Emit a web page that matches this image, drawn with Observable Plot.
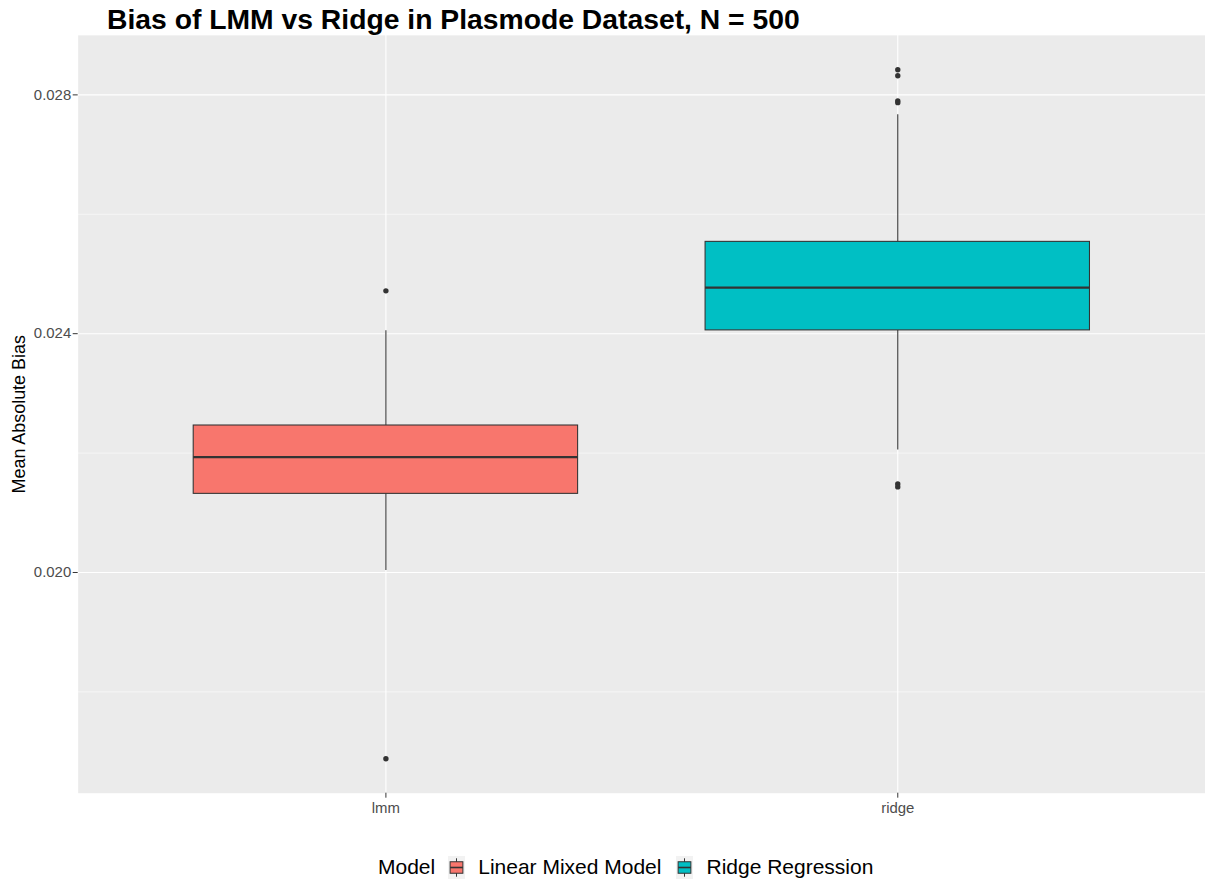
<!DOCTYPE html>
<html>
<head>
<meta charset="utf-8">
<script src="https://cdn.jsdelivr.net/npm/d3@7"></script>
<script src="https://cdn.jsdelivr.net/npm/@observablehq/plot@0.6"></script>
<style>
  html, body { margin: 0; padding: 0; background: #ffffff; overflow: hidden; width: 1205px; height: 886px; }
  body { position: relative; font-family: "Liberation Sans", Arial, sans-serif; }
  #title { position: absolute; left: 107px; top: 3px; font-size: 28.3px; font-weight: bold; color: #000; white-space: nowrap; }
  #chart { position: absolute; left: 0; top: 0; width: 1205px; height: 830px; overflow: hidden; }
  #legend { position: absolute; left: 378px; top: 855px; display: flex; align-items: center; font-size: 21px; color: #000; white-space: nowrap; }
  #legend .lab { margin-right: 13px; }
  #legend .item { display: flex; align-items: center; margin-right: 15px; }
  #legend svg { margin-right: 13px; }
</style>
</head>
<body>
<div id="chart"></div>
<div id="title">Bias of LMM vs Ridge in Plasmode Dataset, N = 500</div>
<div id="legend"></div>
<script>
// ---- data ----
const models = ["lmm", "ridge"];
const modelLabels = ["Linear Mixed Model", "Ridge Regression"];
const modelColors = ["#F8766D", "#00BFC4"];
const whiskerLow = [0.020033, 0.02205];
const q1 = [0.021317, 0.024055];
const median = [0.021933, 0.024772];
const q3 = [0.022462, 0.025538];
const whiskerHigh = [0.02405, 0.027667];
const outlierModel = ["lmm", "lmm", "ridge", "ridge", "ridge", "ridge", "ridge", "ridge"];
const outlierValue = [0.024717, 0.01688, 0.02842, 0.02832, 0.0279, 0.02787, 0.021483, 0.021433];
const majorTicks = [0.020, 0.024, 0.028];
const minorTicks = [0.018, 0.022, 0.026];
const yLabel = "Mean Absolute Bias";
const legendTitle = "Model";

// ---- tables built from arrays ----
const boxes = models.map((m, i) => ({model: m, lo: whiskerLow[i], q1: q1[i], med: median[i], q3: q3[i], hi: whiskerHigh[i]}));
const outliers = outlierModel.map((m, i) => ({model: m, value: outlierValue[i]}));

// ggplot-style 5% expansion of data range
const allVals = [...whiskerLow, ...whiskerHigh, ...outlierValue];
const dmin = d3.min(allVals), dmax = d3.max(allVals);
const ex = (dmax - dmin) * 0.05;

const grey20 = "#333333";
const chart = Plot.plot({
  width: 1210,
  height: 830,
  marginLeft: 78,
  marginRight: 0,
  marginTop: 35,
  marginBottom: 34,
  style: {background: "transparent", fontFamily: "'Liberation Sans', Arial, sans-serif"},
  x: {domain: models, paddingInner: 0.25, paddingOuter: 0.225, align: 0.5, label: null},
  y: {domain: [dmin - ex, dmax + ex], label: null},
  color: {domain: models, range: modelColors},
  marks: [
    Plot.frame({fill: "#EBEBEB", stroke: "none"}),
    Plot.gridY(minorTicks, {stroke: "#ffffff", strokeOpacity: 1, strokeWidth: 0.55}),
    Plot.gridY(majorTicks, {stroke: "#ffffff", strokeOpacity: 1, strokeWidth: 1.1}),
    Plot.gridX(models, {stroke: "#ffffff", strokeOpacity: 1, strokeWidth: 1.1}),
    Plot.ruleX(boxes, {x: "model", y1: "lo", y2: "q1", stroke: grey20, strokeWidth: 1.07}),
    Plot.ruleX(boxes, {x: "model", y1: "q3", y2: "hi", stroke: grey20, strokeWidth: 1.07}),
    Plot.barY(boxes, {x: "model", y1: "q1", y2: "q3", fill: "model", stroke: grey20, strokeWidth: 1.07}),
    Plot.tickY(boxes, {x: "model", y: "med", stroke: grey20, strokeWidth: 2.2}),
    Plot.dot(outliers, {x: "model", y: "value", r: 2.7, fill: grey20, stroke: "none"}),
    Plot.axisY(majorTicks, {tickFormat: d3.format(".3f"), tickSize: 5, tickPadding: 2, fontSize: 15, stroke: grey20, fill: "#4D4D4D", label: null}),
    Plot.axisX(models, {tickSize: 5, tickPadding: 4, fontSize: 15, stroke: grey20, fill: "#4D4D4D", label: null}),
    Plot.text([yLabel], {frameAnchor: "left", textAnchor: "middle", rotate: -90, dx: -59, fontSize: 18, fill: "#000000"})
  ]
});
document.getElementById("chart").appendChild(chart);

// ---- legend ----
const legend = document.getElementById("legend");
const t = document.createElement("span");
t.className = "lab";
t.textContent = legendTitle;
legend.appendChild(t);
models.forEach((m, i) => {
  const item = document.createElement("span");
  item.className = "item";
  const w = 17, h = 23;
  item.innerHTML =
    `<svg width="${w}" height="${h}" viewBox="0 0 ${w} ${h}">` +
    `<rect x="0" y="0" width="${w}" height="${h}" fill="#F2F2F2"/>` +
    `<line x1="${w/2}" x2="${w/2}" y1="${h*0.1}" y2="${h*0.9}" stroke="${grey20}" stroke-width="1"/>` +
    `<rect x="${w*0.125}" y="${h*0.25}" width="${w*0.75}" height="${h*0.5}" fill="${modelColors[i]}" stroke="${grey20}" stroke-width="1"/>` +
    `<line x1="${w*0.125}" x2="${w*0.875}" y1="${h/2}" y2="${h/2}" stroke="${grey20}" stroke-width="1.6"/>` +
    `</svg>`;
  const lab = document.createElement("span");
  lab.textContent = modelLabels[i];
  item.appendChild(lab);
  legend.appendChild(item);
});
</script>
</body>
</html>
